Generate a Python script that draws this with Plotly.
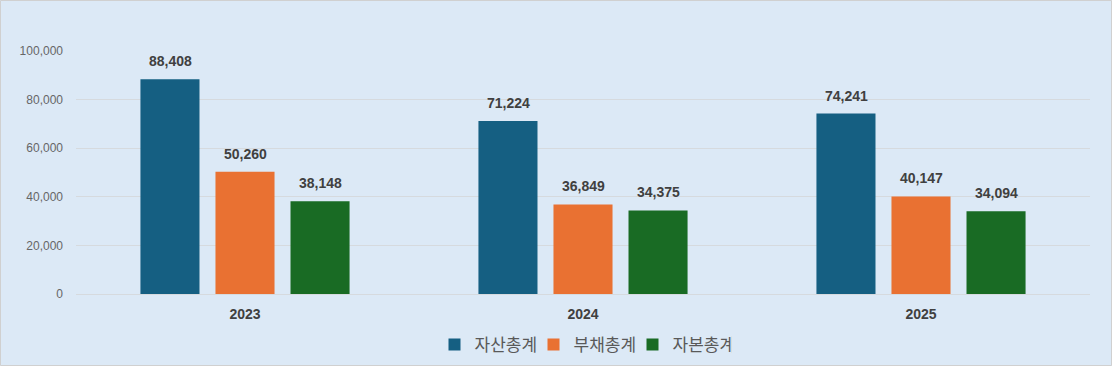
import plotly.graph_objects as go

years = ["2023", "2024", "2025"]
series_names = ["자산총계", "부채총계", "자본총계"]
assets = [88408, 71224, 74241]
liabilities = [50260, 36849, 40147]
equity = [38148, 34375, 34094]
colors = ["#155f82", "#e97132", "#196b24"]
y_ticks = [0, 20000, 40000, 60000, 80000, 100000]

W, H = 1112, 366
ml, mr, mt, mb = 76, 22, 51, 72
pw, ph = W - ml - mr, H - mt - mb
slot_px = 75  # pixel distance between grouped bar centres

fig = go.Figure()
annotations = []
for i, (name, vals, col) in enumerate(zip(series_names, [assets, liabilities, equity], colors)):
    fig.add_trace(go.Bar(
        x=years, y=vals, name=name, marker_color=col, marker_line_width=0,
        hoverinfo="x+y+name",
    ))
    for k, v in enumerate(vals):
        annotations.append(dict(
            x=k, y=v, xref="x", yref="y", text=f"{v:,}", showarrow=False,
            xanchor="center", yanchor="bottom", xshift=(i - 1) * slot_px, yshift=8,
            font=dict(family="Liberation Sans", size=14, color="#404040", weight="bold"),
        ))

fig.update_layout(
    width=W, height=H,
    margin=dict(l=ml, r=mr, t=mt, b=mb, autoexpand=False),
    paper_bgcolor="#dce9f6", plot_bgcolor="#dce9f6",
    barmode="group", bargap=0.334, bargroupgap=0.213,
    font=dict(family="Liberation Sans"),
    showlegend=True,
    legend=dict(orientation="h", x=0.5, xanchor="center", y=-(345 - 294) / ph, yanchor="middle",
                font=dict(family="Noto Sans CJK KR", size=17, color="#595959"),
                traceorder="normal", itemwidth=30, entrywidth=54, entrywidthmode="pixels"),
    xaxis=dict(type="category", categoryorder="array", categoryarray=years,
               range=[-0.5, len(years) - 0.5], autorange=False,
               showgrid=False, showline=False, ticks="", ticklabelstandoff=10,
               tickfont=dict(family="Liberation Sans", size=14, color="#404040", weight="bold")),
    yaxis=dict(range=[0, 100000], tickvals=y_ticks, tickformat=",",
               showgrid=True, gridcolor="#d6dade", gridwidth=1,
               zeroline=True, zerolinecolor="#d6dade", zerolinewidth=1,
               showline=False, ticks="", ticklabelstandoff=12,
               tickfont=dict(family="Liberation Sans", size=12, color="#666666")),
    annotations=annotations,
    shapes=[dict(type="rect", xref="paper", yref="paper",
                 x0=-ml / pw + 0.5 / pw, x1=1 + mr / pw - 0.5 / pw,
                 y0=-mb / ph + 0.5 / ph, y1=1 + mt / ph - 0.5 / ph,
                 line=dict(color="#d0d0d0", width=1), fillcolor="rgba(0,0,0,0)", layer="below")],
)

fig.write_html("out.html", config={"displayModeBar": False},
               post_script="document.body.style.margin='0';document.body.style.overflow='hidden';")
